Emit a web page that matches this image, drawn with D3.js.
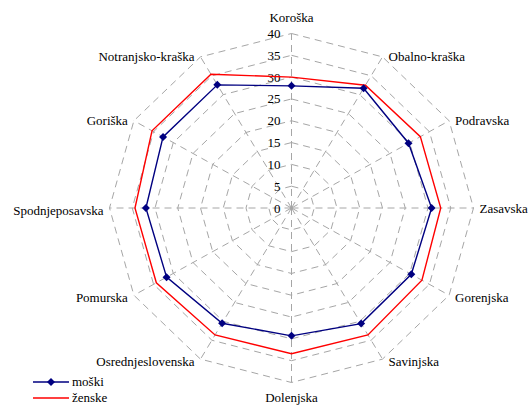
<!DOCTYPE html>
<html>
<head>
<meta charset="utf-8">
<script src="https://cdn.jsdelivr.net/npm/d3@7"></script>
<style>
  body { margin: 0; background: #fff; }
  svg text { font-family: "Liberation Serif", "DejaVu Serif", serif; font-size: 13px; fill: #000; }
</style>
</head>
<body>
<svg id="chart" width="532" height="405" font-family="Liberation Serif, DejaVu Serif, serif"></svg>
<script>
// regije, clockwise from the top
var categories = ["Koroška", "Obalno-kraška", "Podravska", "Zasavska", "Gorenjska", "Savinjska",
                  "Dolenjska", "Osrednjeslovenska", "Pomurska", "Spodnjeposavska", "Goriška", "Notranjsko-kraška"];
var moski  = [28.0, 31.7, 29.7, 30.8, 30.4, 30.6, 29.3, 30.5, 31.7, 32.0, 32.6, 32.6];
var zenske = [30.0, 32.5, 32.7, 32.8, 33.1, 33.6, 33.4, 33.6, 34.3, 34.4, 35.4, 35.4];
var ticks = [0, 5, 10, 15, 20, 25, 30, 35, 40];

var svg = d3.select("#chart");
var cx = 291.5, cy = 208;
var sx = 182 / 174.5;   // plot is a bit wider than tall

var r = d3.scaleLinear().domain([0, 40]).range([0, 174.5]);
var angle = d3.scaleLinear().domain([0, categories.length]).range([0, 2 * Math.PI]);

var pt = function (i, v) {
    var a = angle(i);
    return [cx + r(v) * sx * Math.sin(a), cy - r(v) * Math.cos(a)];
};

var grid = svg.append("g")
    .attr("fill", "none")
    .attr("stroke", "#a6a6a6")
    .attr("stroke-width", 1)
    .attr("stroke-dasharray", "7,5");

// polygon gridlines
var ring = d3.line().curve(d3.curveLinearClosed);
grid.selectAll("path.ring")
    .data(ticks.slice(1))
    .enter().append("path")
    .attr("class", "ring")
    .attr("d", function (t) { return ring(categories.map(function (c, i) { return pt(i, t); })); });

// spokes
grid.selectAll("line.spoke")
    .data(categories)
    .enter().append("line")
    .attr("class", "spoke")
    .attr("x1", cx).attr("y1", cy)
    .attr("x2", function (c, i) { return pt(i, 40)[0]; })
    .attr("y2", function (c, i) { return pt(i, 40)[1]; });

// radial tick labels
svg.selectAll("text.tick")
    .data(ticks)
    .enter().append("text")
    .attr("class", "tick")
    .attr("x", cx - 11)
    .attr("y", function (t) { return cy - r(t); })
    .attr("dy", "0.35em")
    .attr("text-anchor", "end")
    .text(function (t) { return t; });

// category labels
svg.selectAll("text.cat")
    .data(categories)
    .enter().append("text")
    .attr("class", "cat")
    .each(function (c, i) {
        var a = angle(i), p = pt(i, 40), s = Math.sin(a), co = Math.cos(a);
        var el = d3.select(this);
        if (Math.abs(s) < 0.01) {
            el.attr("text-anchor", "middle").attr("x", p[0])
              .attr("y", co > 0 ? p[1] - 12 : p[1] + 19);
        } else {
            el.attr("text-anchor", s > 0 ? "start" : "end")
              .attr("x", p[0] + (s > 0 ? 6 : -6))
              .attr("y", p[1] + 2 * (co < 0 ? 1 : 0))
              .attr("dy", "0.35em");
        }
        el.text(c);
    });

var series = [
    { name: "moški", values: moski, color: "#000080", marker: true },
    { name: "ženske", values: zenske, color: "#ff0000", marker: false }
];

var diamond = "M0,-4L4,0L0,4L-4,0Z";

series.slice().reverse().forEach(function (s) {
    svg.append("path")
        .attr("fill", "none")
        .attr("stroke", s.color)
        .attr("stroke-width", 1.4)
        .attr("d", ring(s.values.map(function (v, i) { return pt(i, v); })));
    if (s.marker) {
        svg.selectAll("path.mk")
            .data(s.values)
            .enter().append("path")
            .attr("class", "mk")
            .attr("d", diamond)
            .attr("fill", s.color)
            .attr("transform", function (v, i) { var p = pt(i, v); return "translate(" + p[0] + "," + p[1] + ")"; });
    }
});

// legend
var legend = svg.append("g").attr("transform", "translate(33,382)");
series.forEach(function (s, k) {
    var g = legend.append("g").attr("transform", "translate(0," + (k * 16) + ")");
    g.append("line").attr("x1", 0).attr("x2", 36).attr("y1", 0).attr("y2", 0)
        .attr("stroke", s.color).attr("stroke-width", 1.4);
    if (s.marker) g.append("path").attr("d", diamond).attr("fill", s.color).attr("transform", "translate(18,0)");
    g.append("text").attr("x", 39).attr("y", 0).attr("dy", "0.32em").text(s.name);
});
</script>
</body>
</html>
